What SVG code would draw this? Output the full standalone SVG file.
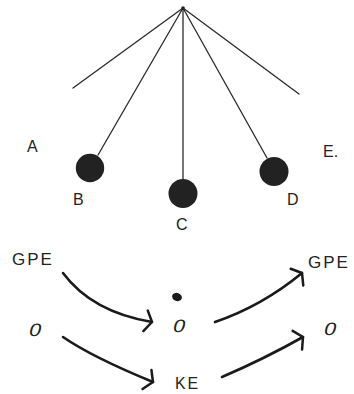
<svg xmlns="http://www.w3.org/2000/svg" width="354" height="394" viewBox="0 0 354 394">
  <style>
    .string { stroke: #2a2a2a; stroke-width: 1.3; fill: none; stroke-linecap: round; }
    .bob { fill: #222; }
    .lbl { font-family: "Liberation Sans", Arial, sans-serif; font-size: 16px; fill: #222; }
    .hand { font-family: "Liberation Sans", Arial, sans-serif; font-size: 17px; fill: #222; letter-spacing: 2px; }
    .zero { font-family: "Liberation Sans", Arial, sans-serif; font-size: 18px; fill: #222; }
    .flow { stroke: #1a1a1a; stroke-width: 2.6; fill: none; stroke-linecap: round; stroke-linejoin: round; }
  </style>
  <defs>
    <marker id="chev" viewBox="0 0 14 24" refX="12" refY="12" markerWidth="14" markerHeight="24" markerUnits="userSpaceOnUse" orient="auto">
      <path d="M6,1.5 L12,12 L5,22.5" fill="none" stroke="#1a1a1a" stroke-width="2.5" stroke-linecap="round" stroke-linejoin="round"/>
    </marker>
  </defs>
  <rect width="354" height="394" fill="#ffffff"/>

  <!-- pendulum: strings from the pivot -->
  <g id="pendulum">
    <line class="string" x1="183" y1="8" x2="73" y2="88"/>
    <line class="string" x1="183" y1="8" x2="98" y2="155"/>
    <line class="string" x1="183" y1="8" x2="183" y2="180"/>
    <line class="string" x1="183" y1="8" x2="267" y2="158"/>
    <line class="string" x1="183" y1="8" x2="299" y2="94"/>
    <circle cx="183" cy="8" r="1.8" fill="#222"/>
  </g>
  <g id="bob-B"><circle class="bob" cx="90" cy="168" r="14.2"/></g>
  <g id="bob-C"><circle class="bob" cx="183" cy="193.5" r="14.5"/></g>
  <g id="bob-D"><circle class="bob" cx="274" cy="171.5" r="14.5"/></g>

  <!-- position labels -->
  <g id="labels">
    <text class="lbl" x="27" y="152">A</text>
    <text class="lbl" x="73" y="205">B</text>
    <text class="lbl" x="176" y="230">C</text>
    <text class="lbl" x="287" y="205">D</text>
    <text class="lbl" x="323" y="157">E.</text>
  </g>

  <!-- energy bookkeeping -->
  <g id="gpe-left"><text class="hand" x="12" y="265">GPE</text></g>
  <g id="zero-left"><text class="zero" transform="translate(28 336) skewX(-14) scale(1.2 1)">0</text></g>
  <g id="zero-mid"><text class="zero" transform="translate(172 332) skewX(-14) scale(1.2 1)">0</text></g>
  <g id="dot"><ellipse cx="177" cy="297" rx="5" ry="4" fill="#1a1a1a" transform="rotate(20 177 297)"/></g>
  <g id="gpe-right"><text class="hand" x="308" y="268">GPE</text></g>
  <g id="zero-right"><text class="zero" transform="translate(323 335) skewX(-14) scale(1.2 1)">0</text></g>
  <g id="ke"><text class="hand" x="175" y="389" font-size="20" textLength="25" lengthAdjust="spacingAndGlyphs">KE</text></g>

  <g id="connectors">
    <path class="flow" d="M63,273 Q92,312 152,322" marker-end="url(#chev)"/>
    <path class="flow" d="M63,337 Q92,357 153,382" marker-end="url(#chev)"/>
    <path class="flow" d="M215,322 Q262,306 302,273" marker-end="url(#chev)"/>
    <path class="flow" d="M222,377 Q264,359 303,337" marker-end="url(#chev)"/>
  </g>
</svg>
